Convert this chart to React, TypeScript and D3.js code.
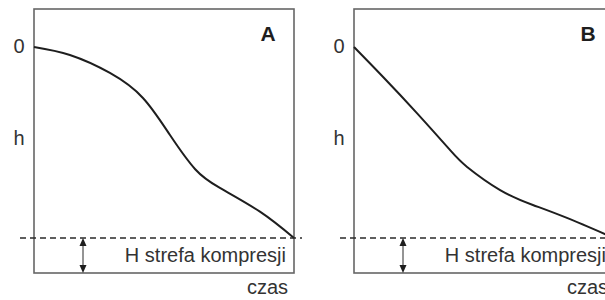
import React from "react";
import * as d3 from "d3";

// Panel A: normalized time (0..1) and depth h (0 = surface, 1 = H line)
const timeA = [0, 0.138, 0.292, 0.419, 0.523, 0.62, 0.715, 0.869, 1.0];
const depthA = [0, 0.042, 0.136, 0.267, 0.461, 0.64, 0.738, 0.862, 1.0];
// Panel B
const timeB = [0, 0.112, 0.242, 0.369, 0.435, 0.562, 0.688, 0.819, 1.0];
const depthB = [0, 0.157, 0.346, 0.539, 0.628, 0.749, 0.827, 0.895, 1.0];

const panelLabels = ["A", "B"];
const zeroLabel = "0";
const depthLabel = "h";
const zoneLabel = "H strefa kompresji";
const timeLabel = "czas";

const W = 605;
const H = 300;
const FONT = "'Liberation Sans', Arial, sans-serif";

type PanelProps = { left: number; label: string; time: number[]; depth: number[] };

function Panel({ left, label, time, depth }: PanelProps) {
  const boxW = 260;
  const top = 9;
  const bottom = 273;
  const x = d3.scaleLinear().domain([0, 1]).range([left, left + boxW]);
  const y = d3.scaleLinear().domain([0, 1]).range([47, 238]);
  const pts: [number, number][] = time.map((t, i) => [t, depth[i]]);
  const line = d3
    .line<[number, number]>()
    .x((d) => x(d[0]))
    .y((d) => y(d[1]))
    .curve(d3.curveNatural);
  const arrowX = left + 49;
  const yH = y(1);
  return (
    <g>
      <rect x={left} y={top} width={boxW} height={bottom - top} fill="none" stroke="#666" strokeWidth={1.6} />
      <path d={line(pts) || ""} fill="none" stroke="#1e1e1e" strokeWidth={2} />
      <line x1={left - 14} x2={left + boxW + 8} y1={yH} y2={yH} stroke="#2a2a2a" strokeWidth={1.5} strokeDasharray="6,4" />
      <line x1={arrowX} x2={arrowX} y1={yH + 5} y2={bottom - 5} stroke="#2a2a2a" strokeWidth={1} />
      <path d={`M${arrowX},${yH} L${arrowX - 3.5},${yH + 8} L${arrowX + 3.5},${yH + 8} Z`} fill="#1e1e1e" />
      <path d={`M${arrowX},${bottom} L${arrowX - 3.5},${bottom - 8} L${arrowX + 3.5},${bottom - 8} Z`} fill="#1e1e1e" />
      <text x={left + boxW - 8} y={262} textAnchor="end" fontSize={20} fill="#333" fontFamily={FONT}>
        {zoneLabel}
      </text>
      <text x={left + 213} y={294} fontSize={20} fill="#333" fontFamily={FONT}>
        {timeLabel}
      </text>
      <text x={left - 15} y={y(0) + 6} textAnchor="middle" fontSize={20} fill="#333" fontFamily={FONT}>
        {zeroLabel}
      </text>
      <text x={left - 15} y={145} textAnchor="middle" fontSize={20} fill="#333" fontFamily={FONT}>
        {depthLabel}
      </text>
      <text x={left + 234} y={41} textAnchor="middle" fontSize={21} fontWeight="bold" fill="#1e1e1e" fontFamily={FONT}>
        {label}
      </text>
    </g>
  );
}

export default function App() {
  return (
    <svg width={W} height={H} style={{ position: "absolute", left: 0, top: 0, background: "#fff" }}>
      <rect x={0} y={0} width={W} height={H} fill="#fff" />
      <Panel left={34} label={panelLabels[0]} time={timeA} depth={depthA} />
      <Panel left={354} label={panelLabels[1]} time={timeB} depth={depthB} />
    </svg>
  );
}
